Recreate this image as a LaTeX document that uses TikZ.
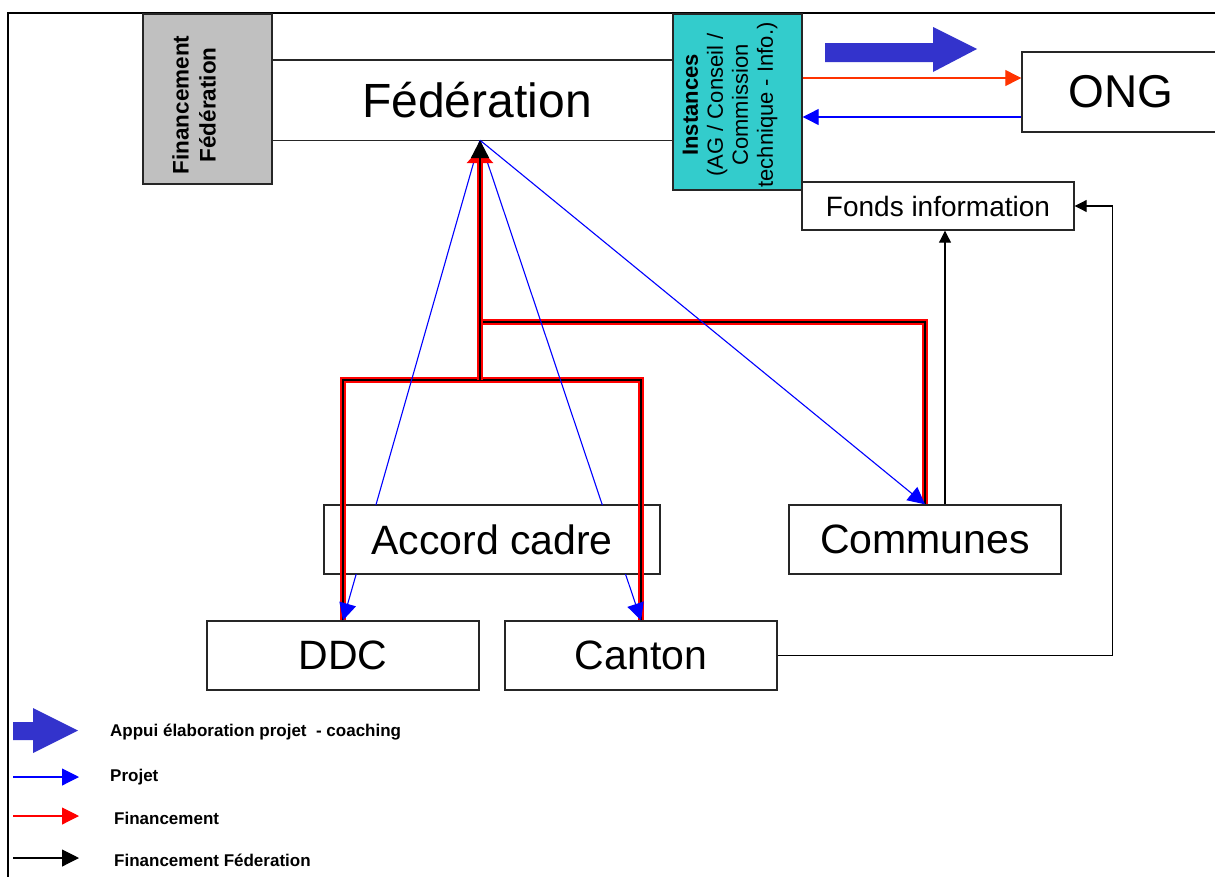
\documentclass[tikz,border=0pt]{standalone}
\usepackage{fontspec}
\setmainfont{Liberation Sans}
\usetikzlibrary{arrows.meta,calc}
\definecolor{grayf}{HTML}{C0C0C0}
\definecolor{tealf}{HTML}{33CCCC}
\definecolor{bigblue}{HTML}{3333CC}
\definecolor{pblue}{HTML}{0000FF}
\definecolor{ored}{HTML}{FF3300}
\definecolor{pred}{HTML}{FF0000}
\begin{document}
\begin{tikzpicture}[x=1pt,y=-1pt,
  box/.style={draw=black!85, line width=1.4pt, fill=white, inner sep=0pt},
  thinline/.style={draw=black!85, line width=1.4pt},
  proj/.style={draw=pblue, line width=1.1pt, -{Triangle[length=17pt,width=17pt]}},
  finr/.style={draw=pred, line width=6pt, line join=miter},
  finb/.style={draw=black, line width=2.2pt, line join=miter},
  blk/.style={draw=black, line width=1.1pt, -{Triangle[length=12pt,width=12pt]}},
  ongred/.style={draw=ored, line width=1.2pt, -{Triangle[length=16pt,width=16pt]}},
  ongblue/.style={draw=pblue, line width=1.2pt, -{Triangle[length=16pt,width=16pt]}},
  legtext/.style={anchor=west, inner sep=0pt, font=\fontsize{17}{20}\selectfont\bfseries},
  bigtext/.style={font=\fontsize{41}{45}\selectfont}
]
\useasboundingbox (0,0) rectangle (1215,876);
\fill[white] (0,0) rectangle (1215,876);

% outer frame
\coordinate (fbl) at (8,880);
\coordinate (ftl) at (8,13);
\coordinate (ftr) at (1220,13);
\draw[line width=2pt] (fbl) -- (ftl) -- (ftr);

% top boxes
\node[box, fill=grayf, minimum width=129pt, minimum height=170pt] (finf) at (207.5,99) {};
\node[rotate=90, align=center, inner sep=0pt, font=\fontsize{22.5}{27}\selectfont\bfseries] (finft) at (194,105) {Financement\\Fédération};

\node[box, fill=tealf, minimum width=129pt, minimum height=176pt] (inst) at (737.5,102) {};
\node[rotate=90, align=center, inner sep=0pt, font=\fontsize{22}{25}\selectfont] (instt) at (730,105) {\textbf{Instances}\\(AG / Conseil /\\Commission\\technique - Info.)};

\node[inner sep=0pt, minimum height=80pt, font=\fontsize{48}{52}\selectfont] (fed) at (477,100) {Fédération};
\draw[thinline] (finf.east |- fed.north) -- (inst.west |- fed.north);
\draw[thinline] (finf.east |- fed.south) -- (inst.west |- fed.south);
\coordinate (apex) at ([xshift=3pt]fed.south);

\node[box, minimum width=198pt, minimum height=80pt, font=\fontsize{46}{50}\selectfont] (ong) at (1121,92) {ONG};
\node[box, minimum width=272pt, minimum height=48pt, font=\fontsize{28}{31}\selectfont] (fonds) at (938,206) {Fonds information};

% big blue arrow (top)
\fill[bigblue] (825,43) -- (933,43) -- (933,27) -- (977,49) -- (933,72) -- (933,62) -- (825,62) -- cycle;

% ONG arrows
\draw[ongred] (inst.east |- ong.west) ++(0,-14) coordinate (r0) -- (ong.west |- r0);
\draw[ongblue] ([yshift=-25pt]ong.west) coordinate (b0) -- (inst.east |- b0);

% lower boxes
\node[box, bigtext, minimum width=272pt, minimum height=69pt] (communes) at (925,539.5) {Communes};
\node[box, bigtext, minimum width=272pt, minimum height=69pt] (ddc) at (343,655.5) {DDC};
\node[box, bigtext, minimum width=272pt, minimum height=69pt] (canton) at (641,655.5) {Canton};
\node[box, bigtext, minimum width=336pt, minimum height=69pt] (accord) at (492,539.5) {Accord cadre};

% financement lines (branches)
\coordinate (j1) at (480,380);
\coordinate (j2) at (480,322);
\draw[finr] (ddc.north) |- (j1) -| (canton.north);
\draw[finr] (communes.north) |- (j2);
\draw[finb] (ddc.north) |- (j1) -| (canton.north);
\draw[finb] (communes.north) |- (j2);

% projet lines (hidden behind Accord cadre)
\begin{scope}[even odd rule]
  \clip (0,0) rectangle (1215,876)
        ([xshift=-0.7pt,yshift=0.7pt]accord.south west) rectangle ([xshift=0.7pt,yshift=-0.7pt]accord.north east);
  \draw[proj] (apex) -- (ddc.north);
  \draw[proj] (apex) -- (canton.north);
  \draw[proj] (apex) -- (communes.north);
\end{scope}

% financement trunk with arrow into Federation
\draw[finr, -{Triangle[length=15pt,width=26pt]}] (j1) -- ([yshift=-8pt]apex);
\draw[finb, -{Triangle[length=18pt,width=18pt]}] (j1) -- (apex);

% financement federation (black)
\draw[blk] ([xshift=20pt]communes.north) -- ([xshift=20pt]communes.north |- fonds.south);
\draw[blk] (canton.east) -| ([xshift=38pt]fonds.east) -- (fonds.east);

% legend
\fill[bigblue] (13,722) -- (33,722) -- (33,708) -- (78,730.5) -- (33,753) -- (33,740) -- (13,740) -- cycle;
\node[legtext] (lt1) at (110,732) {Appui élaboration projet~ - coaching};

\coordinate (l2a) at (13,777);
\coordinate (l2b) at (79,777);
\draw[draw=pblue, line width=1.1pt, -{Triangle[length=17pt,width=17pt]}] (l2a) -- (l2b);
\node[legtext] (lt2) at (110,777) {Projet};

\coordinate (l3a) at (13,816);
\coordinate (l3b) at (79,816);
\draw[draw=pred, line width=1.1pt, -{Triangle[length=17pt,width=17pt]}] (l3a) -- (l3b);
\node[legtext] (lt3) at (114,818) {Financement};

\coordinate (l4a) at (13,858);
\coordinate (l4b) at (79,858);
\draw[draw=black, line width=1.1pt, -{Triangle[length=17pt,width=17pt]}] (l4a) -- (l4b);
\node[legtext] (lt4) at (114,860) {Financement Féderation};
\end{tikzpicture}
\end{document}
